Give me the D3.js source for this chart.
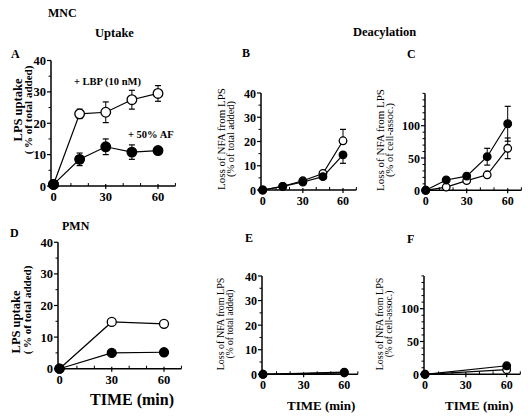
<!DOCTYPE html>
<html><head><meta charset="utf-8">
<script src="https://cdn.jsdelivr.net/npm/d3@7"></script>
<style>body{margin:0;background:#fff}svg{display:block}</style>
</head><body>
<svg id="c" width="528" height="417"></svg>
<script>
// ---------- data ----------
const timesMNC = [0, 15, 30, 45, 60];
const timesPMN = [0, 30, 60];
const timesPMNDeacyl = [0, 60];
const xTicksMajor = [0, 30, 60];
const xTicksMinor = [10, 20, 40, 50, 70];

// Panel A: MNC uptake
const mncUptakeLBP = [0.5, 23, 23.5, 27.5, 29.5];
const mncUptakeLBPErr = [0, 1.5, 3.3, 3, 2.5];
const mncUptakeAF = [0.5, 8.5, 12.5, 10.8, 11.3];
const mncUptakeAFErr = [0, 2, 2.5, 2.3, 0];
// Panel B: MNC deacylation (% of total added)
const mncDeacTotLBP = [0, 1.5, 3.8, 6.8, 20.3];
const mncDeacTotLBPErrHi = [0, 0, 0, 0, 4.7];
const mncDeacTotAF = [0, 1.5, 3.3, 5.5, 14.5];
const mncDeacTotAFErrLo = [0, 0, 0, 0, 3.5];
// Panel C: MNC deacylation (% of cell-assoc.)
const mncDeacCellAF = [0, 16, 22, 52, 103];
const mncDeacCellAFErr = [0, 0, 0, 13, 27];
const mncDeacCellLBP = [0, 5, 15, 24, 65];
const mncDeacCellLBPErr = [0, 0, 0, 0, 16];
// Panel D: PMN uptake
const pmnUptakeLBP = [0, 14.8, 14.2];
const pmnUptakeAF = [0, 5, 5.2];
// Panel E: PMN deacylation (% of total added)
const pmnDeacTotLBP = [0, 0.6];
const pmnDeacTotAF = [0, 0.9];
// Panel F: PMN deacylation (% of cell-assoc.)
const pmnDeacCellLBP = [0, 7];
const pmnDeacCellLBPErr = [0, 3];
const pmnDeacCellAF = [0, 13];

const yTicks40 = [0, 10, 20, 30, 40];
const yMinor40 = [5, 15, 25, 35];
const yTicks150 = [0, 50, 100];
const yMinor150 = [10, 20, 30, 40, 60, 70, 80, 90, 110, 120, 130, 140, 150];

// ---------- drawing ----------
const svg = d3.select("#c");
const serif = "'Liberation Serif', 'Times New Roman', serif";

function zeros(n){ return new Array(n).fill(0); }

function panel(cfg) {
  const g = svg.append("g");
  const x = d3.scaleLinear().domain([0, 60]).range([cfg.x0, cfg.x60]);
  const y = d3.scaleLinear().domain([0, cfg.yRefVal]).range([cfg.y0, cfg.yRef]);
  const xEnd = x(70);
  g.append("line").attr("x1", cfg.ax).attr("x2", xEnd).attr("y1", cfg.y0).attr("y2", cfg.y0)
    .attr("stroke", "#000").attr("stroke-width", 1.5);
  g.append("line").attr("x1", cfg.ax).attr("x2", cfg.ax).attr("y1", cfg.y0 + 0.75).attr("y2", y(cfg.yMax))
    .attr("stroke", "#000").attr("stroke-width", 1.5);
  cfg.yTicks.forEach(v => {
    g.append("line").attr("x1", cfg.ax - 4).attr("x2", cfg.ax).attr("y1", y(v)).attr("y2", y(v))
      .attr("stroke", "#000").attr("stroke-width", 1.2);
    g.append("text").attr("x", cfg.ax - 5).attr("y", y(v) + 4.5).attr("text-anchor", "end")
      .attr("font-family", serif).attr("font-weight", "bold").attr("font-size", cfg.tickFs)
      .text(v);
  });
  cfg.yMinor.forEach(v => {
    g.append("line").attr("x1", cfg.ax - 2.5).attr("x2", cfg.ax).attr("y1", y(v)).attr("y2", y(v))
      .attr("stroke", "#000").attr("stroke-width", 1);
  });
  xTicksMajor.forEach(v => {
    g.append("line").attr("x1", x(v)).attr("x2", x(v)).attr("y1", cfg.y0 - 2).attr("y2", cfg.y0 + 3)
      .attr("stroke", "#000").attr("stroke-width", 1.2);
    g.append("text").attr("x", x(v)).attr("y", cfg.y0 + 15).attr("text-anchor", "middle")
      .attr("font-family", serif).attr("font-weight", "bold").attr("font-size", cfg.tickFs)
      .text(v);
  });
  xTicksMinor.forEach(v => {
    g.append("line").attr("x1", x(v)).attr("x2", x(v)).attr("y1", cfg.y0 - 3).attr("y2", cfg.y0)
      .attr("stroke", "#000").attr("stroke-width", 1);
  });
  const line = d3.line().x(d => x(d[0])).y(d => y(d[1]));
  cfg.series.forEach(s => {
    const pts = s.t.map((t, i) => [t, s.v[i]]);
    g.append("path").attr("d", line(pts)).attr("fill", "none").attr("stroke", "#000").attr("stroke-width", 1.2);
  });
  cfg.series.forEach(s => {
    const hi = s.hi || zeros(s.t.length), lo = s.lo || zeros(s.t.length);
    s.t.forEach((t, i) => {
      const cx = x(t);
      [[hi[i], 1], [lo[i], -1]].forEach(([e, sgn]) => {
        if (e > 0) {
          const yy = y(s.v[i] + sgn * e);
          g.append("line").attr("x1", cx).attr("x2", cx).attr("y1", y(s.v[i])).attr("y2", yy).attr("stroke", "#000").attr("stroke-width", 1);
          g.append("line").attr("x1", cx - 3).attr("x2", cx + 3).attr("y1", yy).attr("y2", yy).attr("stroke", "#000").attr("stroke-width", 1.2);
        }
      });
    });
  });
  cfg.series.forEach(s => {
    s.t.forEach((t, i) => {
      g.append("circle").attr("cx", x(t)).attr("cy", y(s.v[i])).attr("r", cfg.r)
        .attr("fill", s.open ? "#fff" : "#000").attr("stroke", "#000").attr("stroke-width", 1.3);
    });
  });
  cfg.title.forEach(tt => {
    g.append("text").attr("transform", `translate(${tt.x},${tt.y}) rotate(-90)`)
      .attr("text-anchor", "middle").attr("font-family", serif)
      .attr("font-weight", tt.bold ? "bold" : "normal").attr("font-size", tt.fs).text(tt.text);
  });
}

panel({ax: 51, x0: 53.5, x60: 158, y0: 186, yRef: 60.5, yRefVal: 40, yMax: 40,
  yTicks: yTicks40, yMinor: yMinor40, tickFs: 12.5, r: 4.8,
  series: [
    {t: timesMNC, v: mncUptakeLBP, hi: mncUptakeLBPErr, lo: mncUptakeLBPErr, open: true},
    {t: timesMNC, v: mncUptakeAF, hi: mncUptakeAFErr, lo: mncUptakeAFErr, open: false}
  ],
  title: [{text: "LPS uptake", x: 22, y: 110, fs: 12.5, bold: true},
          {text: "( % of total added)", x: 32, y: 110, fs: 11, bold: true}]
});
panel({ax: 261, x0: 262.7, x60: 343, y0: 190, yRef: 93, yRefVal: 40, yMax: 40,
  yTicks: yTicks40, yMinor: yMinor40, tickFs: 12, r: 3.8,
  series: [
    {t: timesMNC, v: mncDeacTotLBP, hi: mncDeacTotLBPErrHi, open: true},
    {t: timesMNC, v: mncDeacTotAF, lo: mncDeacTotAFErrLo, open: false}
  ],
  title: [{text: "Loss of NFA from LPS", x: 225, y: 139, fs: 11},
          {text: "(% of total added)", x: 234, y: 139, fs: 10.5}]
});
panel({ax: 425, x0: 425.7, x60: 507.7, y0: 190.3, yRef: 125.7, yRefVal: 100, yMax: 150,
  yTicks: yTicks150, yMinor: yMinor150, tickFs: 12, r: 3.8,
  series: [
    {t: timesMNC, v: mncDeacCellLBP, hi: mncDeacCellLBPErr, lo: mncDeacCellLBPErr, open: true},
    {t: timesMNC, v: mncDeacCellAF, hi: mncDeacCellAFErr, lo: mncDeacCellAFErr, open: false}
  ],
  title: [{text: "Loss of NFA from LPS", x: 384, y: 140, fs: 11},
          {text: "(% of cell-assoc.)", x: 393, y: 140, fs: 10.5}]
});
panel({ax: 58, x0: 59.5, x60: 164, y0: 368.7, yRef: 242.3, yRefVal: 40, yMax: 40,
  yTicks: yTicks40, yMinor: yMinor40, tickFs: 12.5, r: 4.5,
  series: [
    {t: timesPMN, v: pmnUptakeLBP, open: true},
    {t: timesPMN, v: pmnUptakeAF, open: false}
  ],
  title: [{text: "LPS uptake", x: 20, y: 322, fs: 12.5, bold: true},
          {text: "( % of total added)", x: 31, y: 310, fs: 11, bold: true}]
});
panel({ax: 262, x0: 263, x60: 344.3, y0: 374.3, yRef: 276, yRefVal: 40, yMax: 40,
  yTicks: yTicks40, yMinor: yMinor40, tickFs: 12, r: 3.8,
  series: [
    {t: timesPMNDeacyl, v: pmnDeacTotLBP, open: true},
    {t: timesPMNDeacyl, v: pmnDeacTotAF, open: false}
  ],
  title: [{text: "Loss of NFA from LPS", x: 224, y: 324, fs: 10},
          {text: "(% of total added)", x: 233, y: 324, fs: 9.5}]
});
panel({ax: 424, x0: 425, x60: 506.7, y0: 374.3, yRef: 308.7, yRefVal: 100, yMax: 150,
  yTicks: yTicks150, yMinor: yMinor150, tickFs: 12, r: 3.8,
  series: [
    {t: timesPMNDeacyl, v: pmnDeacCellLBP, hi: pmnDeacCellLBPErr, lo: pmnDeacCellLBPErr, open: true},
    {t: timesPMNDeacyl, v: pmnDeacCellAF, open: false}
  ],
  title: [{text: "Loss of NFA from LPS", x: 383, y: 324, fs: 10},
          {text: "(% of cell-assoc.)", x: 392, y: 324, fs: 9.5}]
});

function label(txt, x, y, fs, bold, anchor) {
  svg.append("text").attr("x", x).attr("y", y).attr("font-family", serif)
    .attr("font-weight", bold ? "bold" : "normal").attr("font-size", fs)
    .attr("text-anchor", anchor || "start").text(txt);
}
label("MNC", 48, 17, 12, true);
label("Uptake", 95, 37, 12.5, true);
label("Deacylation", 353, 36, 12.5, true);
label("A", 11, 58, 12, true);
label("B", 242, 57, 12, true);
label("C", 407, 58, 12, true);
label("PMN", 62, 230, 12, true);
label("D", 10, 237, 12, true);
label("E", 245, 242, 12, true);
label("F", 407, 243, 12, true);
label("+ LBP (10 nM)", 74, 85, 10.5, true);
label("+ 50% AF", 128, 138, 10.5, true);
label("TIME (min)", 90, 405, 16, true);
label("TIME (min)", 287, 410, 13, true);
label("TIME (min)", 445, 410, 13, true);
</script>
</body></html>
